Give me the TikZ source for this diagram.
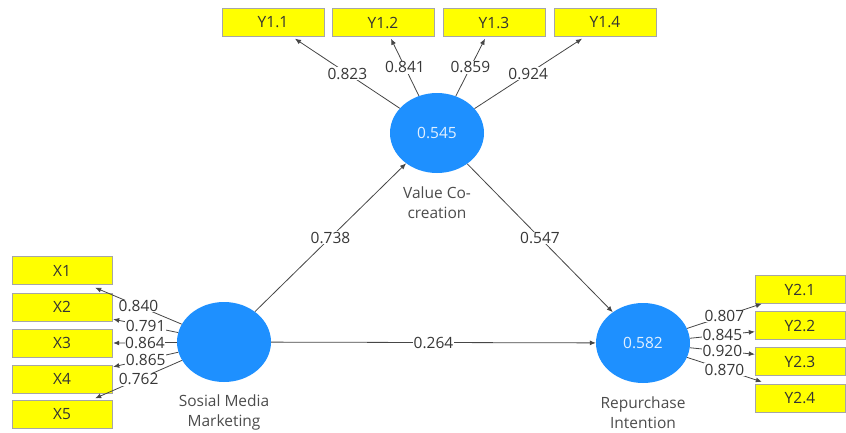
\documentclass[tikz,border=0pt]{standalone}
\usepackage{fontspec}
\setmainfont{Open Sans}
\usetikzlibrary{shapes.geometric,arrows.meta,calc}
\definecolor{lvblue}{RGB}{30,144,255}
\definecolor{lvtext}{RGB}{225,240,255}
\definecolor{indfill}{RGB}{255,255,0}
\definecolor{txtgray}{RGB}{55,55,55}
\definecolor{linegray}{RGB}{70,70,70}
\begin{document}
\begin{tikzpicture}[x=1pt,y=-1pt,
  every node/.style={font=\fontsize{15.5}{20}\selectfont, text=txtgray},
  latent/.style={ellipse, fill=lvblue, minimum width=94pt, minimum height=80pt, inner sep=0pt, text=lvtext},
  indbox/.style={draw=black!35, fill=indfill, minimum height=28pt, inner sep=0pt, text=black!80},
  topbox/.style={indbox, minimum width=102pt},
  xbox/.style={indbox, minimum width=100pt},
  ybox/.style={indbox, minimum width=90pt},
  conn/.style={draw=linegray, line width=0.8pt, -{Latex[length=6pt,width=5pt]}},
  lbl/.style={fill=white, inner sep=0.5pt, pos=0.5},
  lvcaption/.style={align=center, text=black!70}
]
\useasboundingbox (0,0) rectangle (846,432);

% latent variables
\node[latent] (vcc) at (437,133) {0.545};
\node[latent] (smm) at (224,342) {};
\node[latent] (ri) at (643,343) {0.582};

\node[lvcaption] (vcccap) at (437,203) {Value Co-\\creation};
\node[lvcaption] (smmcap) at (224,412) {Sosial Media\\Marketing};
\node[lvcaption] (ricap) at (643,413) {Repurchase\\Intention};

% top indicators
\node[topbox] (y11) at (273,22.5) {Y1.1};
\node[topbox] (y12) at (383,22.5) {Y1.2};
\node[topbox] (y13) at (494,22.5) {Y1.3};
\node[topbox] (y14) at (605,22.5) {Y1.4};

% left indicators
\node[xbox] (x1) at (62,270.5) {X1};
\node[xbox] (x2) at (62,307) {X2};
\node[xbox] (x3) at (62,343) {X3};
\node[xbox] (x4) at (62,379) {X4};
\node[xbox] (x5) at (62,414.5) {X5};

% right indicators
\node[ybox] (y21) at (800,289.5) {Y2.1};
\node[ybox] (y22) at (800,325.5) {Y2.2};
\node[ybox] (y23) at (800,361.5) {Y2.3};
\node[ybox] (y24) at (800,398) {Y2.4};

% arrow end points
\coordinate (ty11) at ($(y11.south)+(22,2)$);
\coordinate (ty12) at ($(y12.south)+(8,2)$);
\coordinate (ty13) at ($(y13.south)+(-9,2)$);
\coordinate (ty14) at ($(y14.south)+(-23,2)$);

\coordinate (tx1) at ($(x1.south east)+(-17,3)$);
\coordinate (tx2) at ($(x2.south east)+(1,-2)$);
\coordinate (tx3) at ($(x3.east)+(1,0)$);
\coordinate (tx4) at ($(x4.north east)+(1,2)$);
\coordinate (tx5) at ($(x5.north east)+(-17,-2)$);

\coordinate (ty21) at ($(y21.south west)+(7,0)$);
\coordinate (ty22) at ($(y22.south west)+(0,-8)$);
\coordinate (ty23) at ($(y23.north west)+(0,7)$);
\coordinate (ty24) at ($(y24.north west)+(7,-2)$);

% outer loadings
\draw[conn] (vcc) -- node[lbl] {0.823} (ty11);
\draw[conn] (vcc) -- node[lbl] {0.841} (ty12);
\draw[conn] (vcc) -- node[lbl] {0.859} (ty13);
\draw[conn] (vcc) -- node[lbl] {0.924} (ty14);

\draw[conn] (smm) -- node[lbl] {0.840} (tx1);
\draw[conn] (smm) -- node[lbl] {0.791} (tx2);
\draw[conn] (smm) -- node[lbl] {0.864} (tx3);
\draw[conn] (smm) -- node[lbl] {0.865} (tx4);
\draw[conn] (smm) -- node[lbl] {0.762} (tx5);

\draw[conn] (ri) -- node[lbl] {0.807} (ty21);
\draw[conn] (ri) -- node[lbl] {0.845} (ty22);
\draw[conn] (ri) -- node[lbl] {0.920} (ty23);
\draw[conn] (ri) -- node[lbl] {0.870} (ty24);

% structural paths
\draw[conn] (smm) -- node[lbl] {0.738} (vcc);
\draw[conn] (vcc) -- node[lbl] {0.547} (ri);
\draw[conn] (smm) -- node[lbl] {0.264} (ri);
\end{tikzpicture}
\end{document}
